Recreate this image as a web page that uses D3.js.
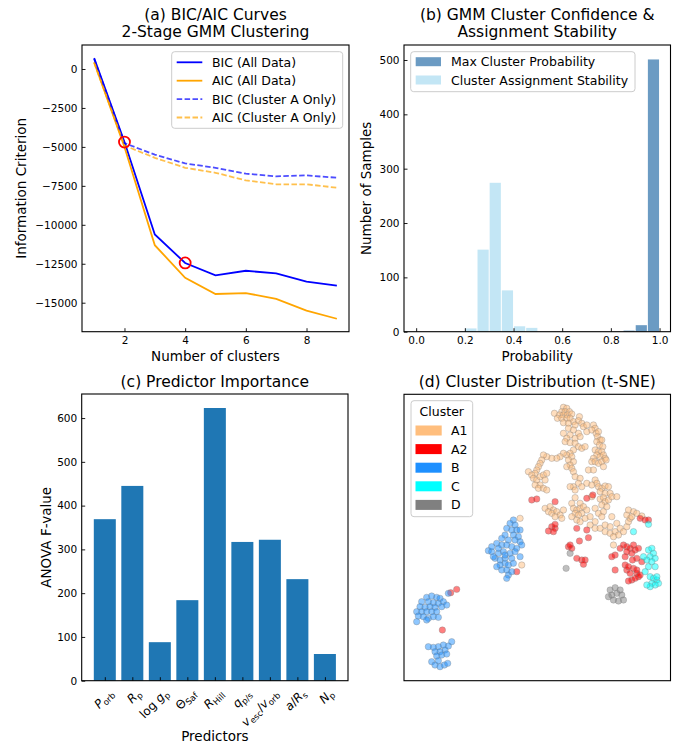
<!DOCTYPE html>
<html>
<head>
<meta charset="utf-8">
<script src="https://cdn.jsdelivr.net/npm/d3@7"></script>
<style>
body { margin: 0; background: #fff; }
svg { font-family: "DejaVu Sans", sans-serif; }
</style>
</head>
<body>
<svg id="fig" width="689" height="744"></svg>
<script>
// ---- (a) BIC / AIC curves ----
const nClusters = [1, 2, 3, 4, 5, 6, 7, 8, 9];
const bicAll = [700, -4690, -10620, -12450, -13250, -12950, -13120, -13650, -13910];
const aicAll = [430, -5010, -11310, -13400, -14440, -14380, -14760, -15510, -16030];
const bicClusterA = [650, -4760, -5500, -6060, -6340, -6720, -6890, -6830, -6980];
const aicClusterA = [400, -4910, -5700, -6340, -6660, -7150, -7400, -7400, -7620];
const selectedK = [2, 4];
const yTicksA = [-15000, -12500, -10000, -7500, -5000, -2500, 0];
const xTicksA = [2, 4, 6, 8];

// ---- (b) confidence / stability histograms ----
const binEdges = [0, 0.05, 0.1, 0.15, 0.2, 0.25, 0.3, 0.35, 0.4, 0.45, 0.5,
                  0.55, 0.6, 0.65, 0.7, 0.75, 0.8, 0.85, 0.9, 0.95, 1.0];
const maxProbCounts = [0, 0, 0, 0, 0, 0, 0, 0, 0, 0, 0, 0, 0, 0, 0, 0, 0, 2, 12, 501];
const stabilityCounts = [0, 0, 0, 0, 6, 151, 274, 76, 10, 7, 0, 0, 0, 0, 0, 0, 0, 0, 0, 0];
const xTicksB = [0, 0.2, 0.4, 0.6, 0.8, 1.0];
const yTicksB = [0, 100, 200, 300, 400, 500];

// ---- (c) predictor importance ----
// segments: [text, style]  i = italic, r = roman, s = subscript
const predictorLabels = [
  [["P", "i"], ["orb", "s"]],
  [["R", "i"], ["p", "s"]],
  [["log ", "r"], ["g", "i"], ["p", "s"]],
  [["\u0398", "r"], ["Saf", "s"]],
  [["R", "i"], ["Hill", "s"]],
  [["q", "i"], ["p/s", "s"]],
  [["v", "i"], ["esc", "s"], ["/", "r"], ["v", "i"], ["orb", "s"]],
  [["a", "i"], ["/", "r"], ["R", "i"], ["s", "s"]],
  [["N", "i"], ["p", "s"]]
];
const fValues = [369, 445, 88, 184, 623, 317, 322, 232, 61];
const yTicksC = [0, 100, 200, 300, 400, 500, 600];

// ---- (d) t-SNE embedding ----
const clusterNames = ["A1", "A2", "B", "C", "D"];
const clusterColors = ["#ffbe7d", "#ff0000", "#1e90ff", "#00ffff", "#808080"];
const tsneA1 = [
  [50.5,-5.2],[51.5,-5.5],[50,-6.5],[51,-6.5],[52.3,-6.5],[47.8,-7],[49.3,-7.5],[50.5,-7.5],[51.7,-7.5],[53,-7.2],
  [48.7,-8.5],[50,-8.5],[51.5,-8.5],[52.5,-8.5],[55.3,-8],[53.5,-9.5],[55,-9.2],[56,-10],[50.5,-9.8],[52,-10],
  [54,-10.5],[56.5,-11],[57.5,-10.5],[57.5,-12.5],[52,-11.5],[53.5,-12],[55,-13],[50.5,-13],[52.5,-13.5],[51.5,-14.5],
  [54,-14.5],[55.5,-14],[51,-15.5],[52.5,-15.8],[54,-16],[55,-17],[56,-17.5],[57,-17],[53.5,-18],[52.5,-19],
  [51.5,-19.5],[53,-20],[52,-21],[53.5,-21.5],[52.5,-22.5],[51.5,-23],[53,-23.5],[53.5,-24.5],[50.5,-19],[49.5,-20],
  [48.5,-20.5],[47,-20.5],[45.5,-20],[44.5,-19.5],[44,-21],[43.5,-22],[43,-23],[42.5,-24],[42,-25],[40,-24.5],
  [41,-25.5],[41.5,-26.5],[42.5,-27],[43.5,-26],[44.5,-25.5],[45.5,-25],[45,-27],[43.5,-28.5],[42,-28.5],[43,-29.5],
  [44.5,-29.5],[45.5,-30],[54,-26],[55.5,-26.5],[55,-28],[53.5,-29],[52.5,-29],[54,-30],[56,-29],[57.5,-28],[58,-24],
  [59.5,-10.5],[60,-11.5],[59,-12],[60.3,-13],[61,-12.5],[60.7,-14],[61.5,-15],[60.5,-15.5],[62,-15],[61.3,-16.5],
  [62.3,-17],[60,-18],[61,-18.5],[62,-18.5],[60.5,-19.5],[61.5,-20],[62.5,-19.5],[63,-20.5],[59.5,-20.5],[59,-21.5],
  [60,-21.5],[61,-22],[62,-21.5],[63.3,-21],[62.5,-23],[59.5,-24],[60,-27],[60.5,-28],[59,-28.5],[61,-29],
  [62,-29.5],[63,-28.8],[64,-29],[61.5,-30.5],[63,-31],[64.5,-31],
  [54,-32.3],[55.5,-34],[59,-32],[61.5,-32.7],[62.5,-32.3],[63,-33.5],[64,-33],[65,-32],[66.5,-32],[62,-34.5],
  [63.5,-35],[45,-35.5],[46.5,-35],[47.5,-36],[46,-36.5],[47,-37],[48.5,-36.5],[49.5,-37.5],[48,-38],[50,-38.5],
  [50.5,-36],[53,-34],[53.5,-35.5],[54.5,-36],[55.5,-35.5],[56.5,-35],[57.5,-36],[56,-37],[54,-37],[55,-37.5],
  [53,-38],[54.5,-39],[55.5,-39.5],[57,-38.5],[58.5,-38],[60,-35.5],[61,-37],[62.5,-36.5],[62,-38],[60,-39.5],
  [58.5,-40.5],[60,-41.5],[61.5,-41.5],[63,-40.5],[64.5,-41],[63,-42.5],[64.5,-43],[66,-42.5],[67,-43.5],[65.5,-44],
  [66.5,-40],[67.5,-41.5],[68.5,-42.5],[69.5,-41],[70,-39.5],[70.5,-38.5],[69.5,-37.5],[70,-36],[71.5,-36.5],[71,-38],
  [72.5,-37],[65,-38],[37.5,-38.5],[38,-52.5],[65.5,-46.5],[74,-37.8]
];
const tsneA2 = [
  [41,-33],[42.5,-32.7],[48,-33.5],[57.5,-32.5],[59.3,-31.5],[47,-41],[48,-41.5],[46,-42.3],[47.5,-42.5],[48,-40.3],
  [54.5,-41.5],[57.5,-42],[55.3,-45.3],[58,-44.3],[52,-47],[53,-47.5],[52.5,-46.5],[54.5,-50.5],[56,-51],[57,-51],
  [56.5,-52.3],[66,-49.5],[65,-50],[67.5,-47.5],[68.5,-46.5],[69.5,-47],[70.5,-47.5],[71.5,-46.5],[71,-49],[69.5,-48.5],
  [72,-48],[73,-47.5],[66,-54],[69,-52.5],[69.5,-54],[70.5,-55],[71.5,-53.5],[72.5,-55],[73,-56],[71,-57],
  [70,-57.3],[72,-56.5],[73.5,-55.5],[72.5,-50.5],[73.5,-38.5],[75,-39],[76,-39],[74,-51.5],[69,-50],[71.2,-51],
  [70,-53],[72.5,-54],[18.5,-59.8],[16.7,-60.8],[14.2,-72],[36.5,-54.5]
];
const tsneB = [
  [35.5,-39],[34.5,-40],[36,-40.5],[33.5,-41.5],[35,-42],[36.5,-42],[37.5,-42],[33,-43.5],[35.5,-43.5],[37,-44],
  [32,-44.5],[34,-45],[36,-45],[37.5,-45.5],[38,-46.5],[30.5,-46],[32,-46.5],[33.5,-46.5],[35,-47],[36.5,-47.5],
  [28,-48.2],[29,-48.5],[31,-49],[32.5,-48.5],[34.5,-49],[36,-48.5],[30,-50.5],[31.5,-51],[33,-50.5],[35,-50.5],
  [33,-52],[31.5,-52.5],[34,-52.5],[35.5,-52],[30.5,-53],[32,-54],[33.5,-54],[34,-55.5],[33.5,-56.5],[35,-54.5],
  [29.5,-50],[37.5,-50],[31,-47.5],[33,-49.5],[29,-47],
  [9.5,-62.2],[11,-61.8],[12.5,-62.2],[13.5,-62.5],[8,-63.5],[10,-63.5],[11.5,-63.8],[13,-64],[14.5,-63.5],[7.5,-65],
  [9,-65.2],[10.5,-65],[12,-65.2],[14,-65],[15.5,-64.5],[6.5,-66.5],[8,-66.5],[9.5,-66.5],[11,-66.5],[12.5,-66.5],
  [7,-67.8],[8.5,-68],[10,-68.5],[11.5,-68],[13,-68.2],[6.5,-69.5],[9.5,-69],[16,-61],
  [17,-75.5],[16,-76.8],[14.5,-76.5],[13,-77],[11.5,-77.2],[10,-77],[15,-78],[13.5,-78.5],[12,-78.5],[14,-79.5],
  [15.5,-79.2],[12.5,-79.8],[11,-81.5],[12,-82.5],[13.5,-83],[14.8,-82.5],[15.8,-82],[13,-81.2]
];
const tsneC = [
  [71.5,-42.5],[76,-40.3],[76,-48],[77,-47.5],[77.5,-49],[76.5,-50],[75.5,-51],[78,-50.5],[74.5,-50],[77,-51.5],
  [76,-53],[78,-53],[75,-54.5],[76.5,-56],[77.5,-56.5],[78.5,-57],[79,-58],[77,-58],[78,-58.5],[76.5,-59],
  [75.5,-58.5],[78.5,-56]
];
const tsneD = [
  [52.5,-49],[51.3,-53.5],[64.5,-60],[66,-59.3],[67.5,-60],[65,-61.5],[66.5,-61],[68,-61.5],[65.5,-63],[67,-63.3],
  [68.5,-63],[64,-62]
];

const FONT = '"DejaVu Sans", sans-serif';
const svg = d3.select("#fig");

function frame(b) {
  svg.append("rect")
    .attr("x", b.x0).attr("y", b.y0)
    .attr("width", b.x1 - b.x0).attr("height", b.y1 - b.y0)
    .attr("fill", "none").attr("stroke", "#000").attr("stroke-width", 1.1);
}

function styleAxis(ax) {
  ax.select(".domain").remove();
  ax.attr("font-family", FONT).attr("font-size", 10.5);
  ax.selectAll("text").attr("fill", "#000");
  ax.selectAll("line").attr("stroke", "#000").attr("stroke-width", 0.9);
}

function title(lines, cx, y0) {
  lines.forEach((t, i) => {
    svg.append("text").attr("x", cx).attr("y", y0 + i * 17.5)
      .attr("text-anchor", "middle").attr("font-size", 15.5).text(t);
  });
}

function xLabel(t, cx, y) {
  svg.append("text").attr("x", cx).attr("y", y)
    .attr("text-anchor", "middle").attr("font-size", 13.5).text(t);
}

function yLabel(t, x, cy) {
  svg.append("text").attr("transform", `translate(${x},${cy}) rotate(-90)`)
    .attr("text-anchor", "middle").attr("font-size", 13.5).text(t);
}

function legendBox(x, y, w, h) {
  svg.append("rect").attr("x", x).attr("y", y).attr("width", w).attr("height", h)
    .attr("rx", 3).attr("fill", "#fff").attr("fill-opacity", 0.8)
    .attr("stroke", "#cccccc").attr("stroke-width", 1);
}

// ================= (a) =================
const boxA = { x0: 82, x1: 349, y0: 45, y1: 331.7 };
const xA = d3.scaleLinear().domain([0.6, 9.4]).range([boxA.x0, boxA.x1]);
const yA = d3.scaleLinear().domain([-16861, 1540]).range([boxA.y1, boxA.y0]);

const seriesA = [
  { name: "BIC (All Data)", values: bicAll, color: "#0000ff", dash: null, op: 1 },
  { name: "AIC (All Data)", values: aicAll, color: "#ffa500", dash: null, op: 1 },
  { name: "BIC (Cluster A Only)", values: bicClusterA, color: "#0000ff", dash: "5.5,2.4", op: 0.7 },
  { name: "AIC (Cluster A Only)", values: aicClusterA, color: "#ffa500", dash: "5.5,2.4", op: 0.7 }
];
const lineA = d3.line().x((d, i) => xA(nClusters[i])).y(d => yA(d));
seriesA.forEach(s => {
  svg.append("path").attr("d", lineA(s.values))
    .attr("fill", "none").attr("stroke", s.color).attr("stroke-opacity", s.op)
    .attr("stroke-width", 1.8).attr("stroke-dasharray", s.dash);
});
selectedK.forEach(k => {
  svg.append("circle").attr("cx", xA(k)).attr("cy", yA(bicAll[nClusters.indexOf(k)]))
    .attr("r", 5.5).attr("fill", "none").attr("stroke", "#ff0000").attr("stroke-width", 1.8);
});
styleAxis(svg.append("g").attr("transform", `translate(${boxA.x0},0)`)
  .call(d3.axisLeft(yA).tickValues(yTicksA).tickSize(-3.5).tickPadding(4.5).tickFormat(d3.format("d"))));
styleAxis(svg.append("g").attr("transform", `translate(0,${boxA.y1})`)
  .call(d3.axisBottom(xA).tickValues(xTicksA).tickSize(-3.5).tickPadding(5.3).tickFormat(d3.format("d"))));
frame(boxA);
legendBox(171.7, 51.7, 171, 76.6);
seriesA.forEach((s, i) => {
  const cy = 62.3 + i * 18.4;
  svg.append("line").attr("x1", 176.7).attr("x2", 202.3).attr("y1", cy).attr("y2", cy)
    .attr("stroke", s.color).attr("stroke-opacity", s.op).attr("stroke-width", 1.8)
    .attr("stroke-dasharray", s.dash);
  svg.append("text").attr("x", 212).attr("y", cy + 4.5).attr("font-size", 12.5).text(s.name);
});
title(["(a) BIC/AIC Curves", "2-Stage GMM Clustering"], (boxA.x0 + boxA.x1) / 2, 19.5);
xLabel("Number of clusters", (boxA.x0 + boxA.x1) / 2, 361);
yLabel("Information Criterion", 25.5, (boxA.y0 + boxA.y1) / 2);

// ================= (b) =================
const boxB = { x0: 404, x1: 670.5, y0: 45, y1: 331.7 };
const xB = d3.scaleLinear().domain([-0.05, 1.045]).range([boxB.x0, boxB.x1]);
const yB = d3.scaleLinear().domain([0, 527.6]).range([boxB.y1, boxB.y0]);
const histB = [
  { name: "Max Cluster Probability", counts: maxProbCounts, color: "#4682b4", op: 0.8 },
  { name: "Cluster Assignment Stability", counts: stabilityCounts, color: "#87ceeb", op: 0.5 }
];
histB.forEach(h => {
  const bins = h.counts.map((c, i) => ({ x0: binEdges[i], x1: binEdges[i + 1], c })).filter(b => b.c > 0);
  svg.append("g").selectAll("rect").data(bins).join("rect")
    .attr("x", b => xB(b.x0) + 0.5).attr("width", b => xB(b.x1) - xB(b.x0) - 1)
    .attr("y", b => yB(b.c)).attr("height", b => yB(0) - yB(b.c))
    .attr("fill", h.color).attr("fill-opacity", h.op);
});
styleAxis(svg.append("g").attr("transform", `translate(${boxB.x0},0)`)
  .call(d3.axisLeft(yB).tickValues(yTicksB).tickSize(-3.5).tickPadding(4.5).tickFormat(d3.format("d"))));
styleAxis(svg.append("g").attr("transform", `translate(0,${boxB.y1})`)
  .call(d3.axisBottom(xB).tickValues(xTicksB).tickSize(-3.5).tickPadding(5.3).tickFormat(d3.format(".1f"))));
frame(boxB);
legendBox(410.7, 51.7, 224.3, 40);
histB.forEach((h, i) => {
  const cy = 61.7 + i * 18.3;
  svg.append("rect").attr("x", 415.7).attr("y", cy - 4.5).attr("width", 25.3).attr("height", 9)
    .attr("fill", h.color).attr("fill-opacity", h.op);
  svg.append("text").attr("x", 451).attr("y", cy + 4.5).attr("font-size", 12.5).text(h.name);
});
title(["(b) GMM Cluster Confidence &", "Assignment Stability"], (boxB.x0 + boxB.x1) / 2, 19.5);
xLabel("Probability", (boxB.x0 + boxB.x1) / 2, 361);
yLabel("Number of Samples", 371, (boxB.y0 + boxB.y1) / 2);

// ================= (c) =================
const boxC = { x0: 81.7, x1: 348, y0: 394, y1: 680.7 };
const idxC = predictorLabels.map((d, i) => i);
const xC = d3.scaleLinear().domain([-0.84, 8.84]).range([boxC.x0, boxC.x1]);
const yC = d3.scaleLinear().domain([0, 655]).range([boxC.y1, boxC.y0]);
svg.append("g").selectAll("rect").data(fValues).join("rect")
  .attr("x", (d, i) => xC(i - 0.4)).attr("width", xC(0.8) - xC(0))
  .attr("y", d => yC(d)).attr("height", d => yC(0) - yC(d))
  .attr("fill", "#1f77b4");
styleAxis(svg.append("g").attr("transform", `translate(${boxC.x0},0)`)
  .call(d3.axisLeft(yC).tickValues(yTicksC).tickSize(-3.5).tickPadding(4.5).tickFormat(d3.format("d"))));
const axC = svg.append("g").attr("transform", `translate(0,${boxC.y1})`)
  .call(d3.axisBottom(xC).tickValues(idxC).tickSize(-3.5).tickFormat(""));
styleAxis(axC);
idxC.forEach(i => {
  const t = svg.append("text")
    .attr("transform", `translate(${xC(i) + 3},${boxC.y1 + 7}) rotate(-45)`)
    .attr("text-anchor", "end").attr("font-size", 12).attr("dy", "0.76em");
  let shifted = false;
  predictorLabels[i].forEach(([txt, st]) => {
    const sp = t.append("tspan").text(txt);
    if (st === "i") sp.attr("font-style", "italic");
    if (st === "s") {
      sp.attr("font-size", 8.5);
      if (!shifted) { sp.attr("dy", 2.6); shifted = true; }
    } else if (shifted) {
      sp.attr("dy", -2.6); shifted = false;
    }
  });
});
frame(boxC);
title(["(c) Predictor Importance"], (boxC.x0 + boxC.x1) / 2, 387);
xLabel("Predictors", (boxC.x0 + boxC.x1) / 2, 740.5);
yLabel("ANOVA F-value", 51, (boxC.y0 + boxC.y1) / 2);

// ================= (d) =================
const boxD = { x0: 404, x1: 670.5, y0: 394.3, y1: 680.7 };
const xD = d3.scaleLinear().domain([2.7, 82.6]).range([boxD.x0, boxD.x1]);
const yD = d3.scaleLinear().domain([-87.2, -1.3]).range([boxD.y1, boxD.y0]);
const tsne = [tsneA1, tsneA2, tsneB, tsneC, tsneD];
tsne.forEach((pts, ci) => {
  svg.append("g").selectAll("circle").data(pts).join("circle")
    .attr("cx", d => xD(d[0])).attr("cy", d => yD(d[1])).attr("r", 3.2)
    .attr("fill", clusterColors[ci]).attr("fill-opacity", 0.5)
    .attr("stroke", "#808080").attr("stroke-opacity", 0.5).attr("stroke-width", 0.7);
});
frame(boxD);
legendBox(411, 400.7, 61.7, 116);
svg.append("text").attr("x", 441.8).attr("y", 415.7).attr("text-anchor", "middle")
  .attr("font-size", 12.5).text("Cluster");
clusterNames.forEach((n, i) => {
  const cy = 430.5 + i * 18.6;
  svg.append("rect").attr("x", 415.5).attr("y", cy - 5).attr("width", 26.2).attr("height", 10)
    .attr("fill", clusterColors[i]);
  svg.append("text").attr("x", 451).attr("y", cy + 4.5).attr("font-size", 12.5).text(n);
});
title(["(d) Cluster Distribution (t-SNE)"], (boxD.x0 + boxD.x1) / 2, 387);
</script>
</body>
</html>
